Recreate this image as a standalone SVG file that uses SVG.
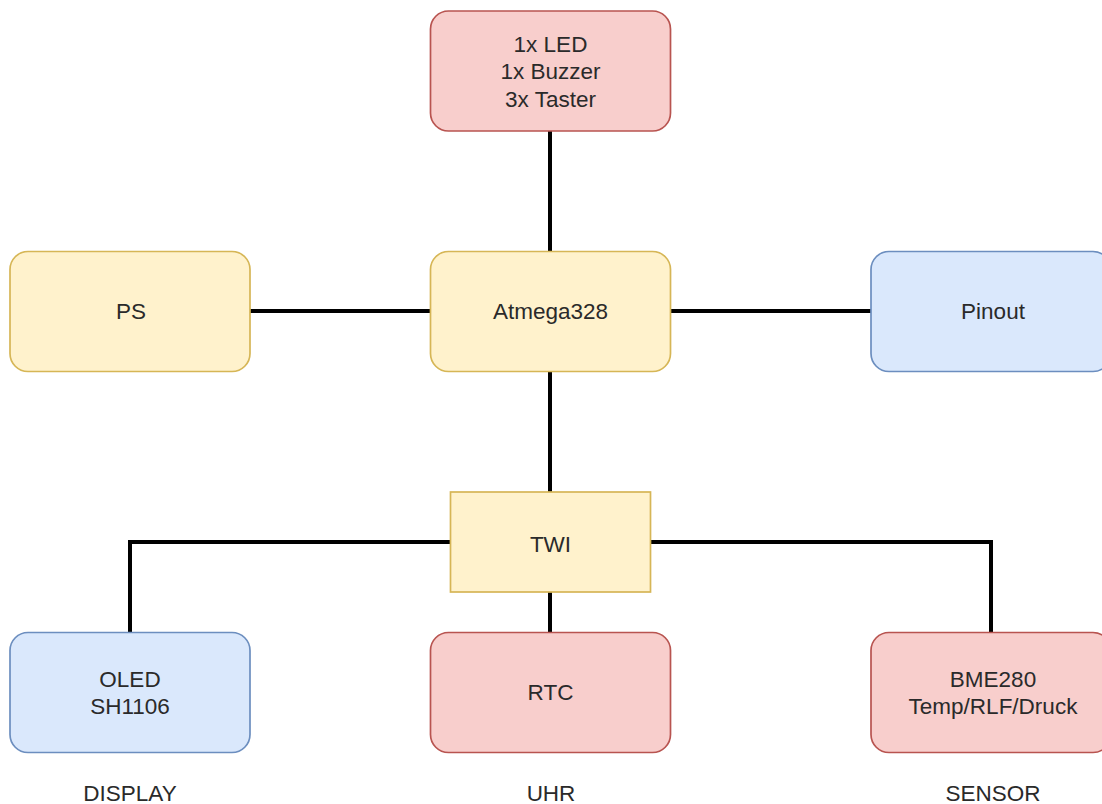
<svg xmlns="http://www.w3.org/2000/svg" width="1102" height="804" viewBox="0 0 1102 804">
<style>
.red{fill:#f8cecc;stroke:#b85450;stroke-width:1.7}
.yel{fill:#fff2cc;stroke:#d6b656;stroke-width:1.7}
.blu{fill:#dae8fc;stroke:#6c8ebf;stroke-width:1.7}
text{font-family:"Liberation Sans",Arial,sans-serif;font-size:22.5px;fill:#2a2a2a;text-anchor:middle}
.conn{stroke:#000;stroke-width:4;fill:none}
</style>
<rect width="1102" height="804" fill="#fff"/>
<g id="connectors">
<path class="conn" d="M550 130V251"/>
<path class="conn" d="M250 311H430"/>
<path class="conn" d="M670 311H871"/>
<path class="conn" d="M550 372V492"/>
<path class="conn" d="M450 542H130V632"/>
<path class="conn" d="M651 542H991V632"/>
<path class="conn" d="M550 592V632"/>
</g>
<g id="io"><rect class="red" x="430.5" y="11" width="240" height="120" rx="18"/>
<text x="550.5" y="52">1x LED</text><text x="550.5" y="79">1x Buzzer</text><text x="550.5" y="107">3x Taster</text></g>
<g id="ps"><rect class="yel" x="10" y="251.5" width="240" height="120" rx="18"/><text x="131" y="319">PS</text></g>
<g id="atmega"><rect class="yel" x="430.5" y="251.5" width="240" height="120" rx="18"/><text x="550.5" y="319">Atmega328</text></g>
<g id="pinout"><rect class="blu" x="871" y="251.5" width="240" height="120" rx="18"/><text x="993" y="319">Pinout</text></g>
<g id="twi"><rect class="yel" x="450.5" y="492" width="200" height="100"/><text x="550.5" y="552">TWI</text></g>
<g id="oled"><rect class="blu" x="10" y="632.5" width="240" height="120" rx="18"/><text x="130" y="687">OLED</text><text x="130" y="714">SH1106</text></g>
<g id="rtc"><rect class="red" x="430.5" y="632.5" width="240" height="120" rx="18"/><text x="550.5" y="700">RTC</text></g>
<g id="bme"><rect class="red" x="871" y="632.5" width="240" height="120" rx="18"/><text x="993" y="687">BME280</text><text x="993" y="714">Temp/RLF/Druck</text></g>
<g id="labels"><text x="130" y="801">DISPLAY</text><text x="551" y="801">UHR</text><text x="993" y="801">SENSOR</text></g>
</svg>
